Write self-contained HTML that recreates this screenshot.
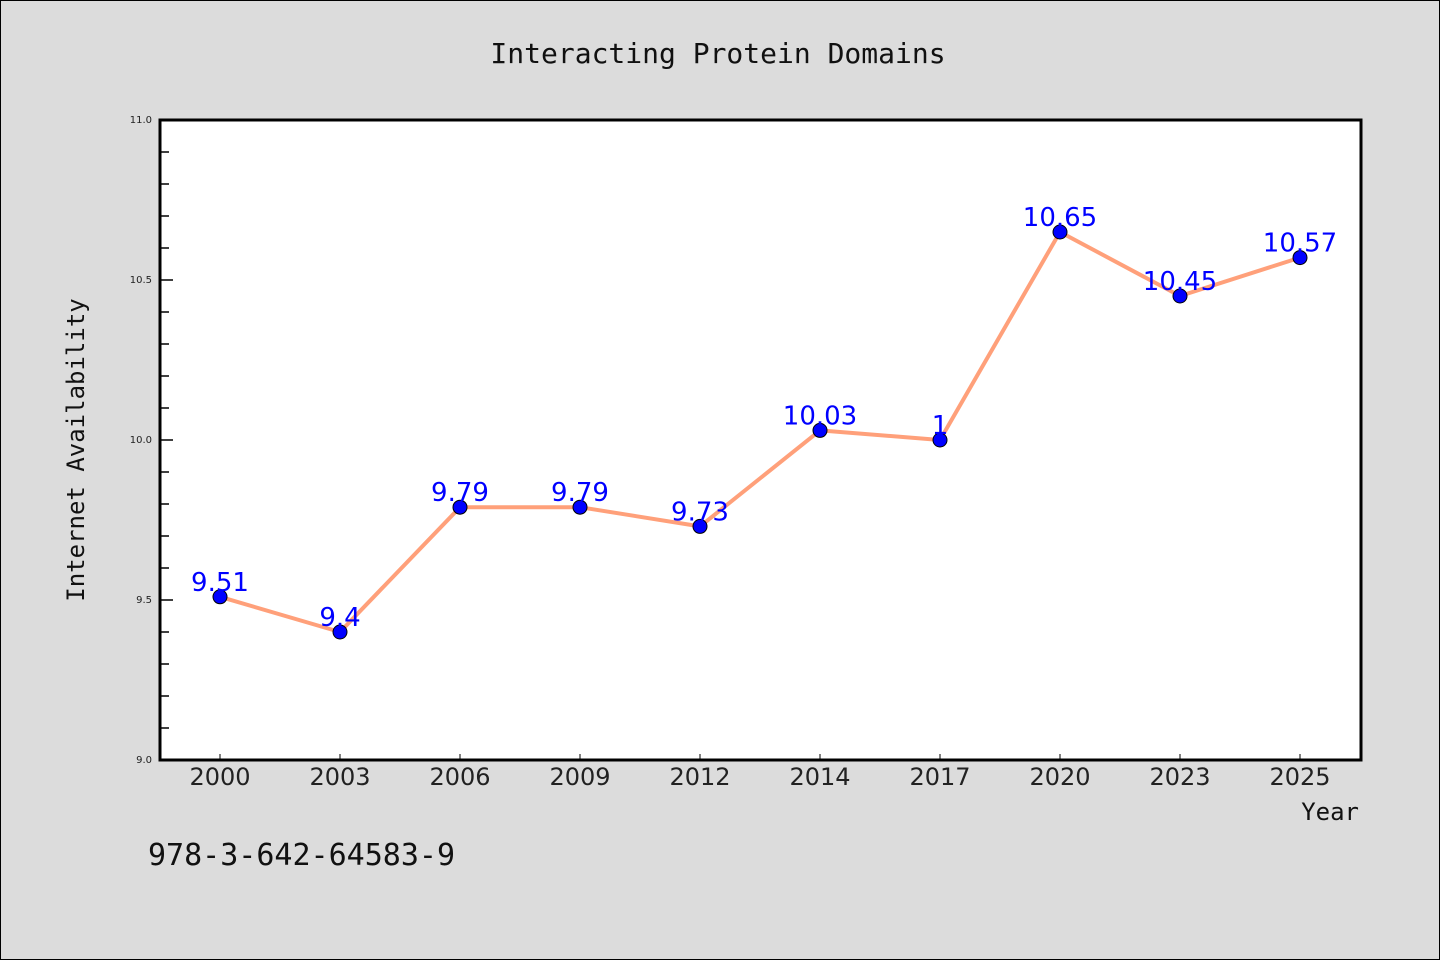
<!DOCTYPE html>
<html><head><meta charset="utf-8"><style>
body{margin:0;background:#dcdcdc;}
svg{display:block;font-family:"DejaVu Sans","Liberation Sans",sans-serif;}
</style></head><body>
<svg width="1440" height="960">
<rect x="0.5" y="0.5" width="1439" height="959" fill="#dcdcdc" stroke="#000"/>
<text x="718" y="63" font-size="28" text-anchor="middle" fill="#111" font-family="DejaVu Sans Mono, monospace">Interacting Protein Domains</text>
<rect x="160" y="120" width="1201" height="640" fill="#fff"/>
<g id="axes"></g>
<g id="marks"></g>
<rect x="160" y="120" width="1201" height="640" fill="none" stroke="#000" stroke-width="3"/>
<text x="84" y="450" font-size="24" text-anchor="middle" fill="#111" transform="rotate(-90 84 450)" font-family="DejaVu Sans Mono, monospace">Internet Availability</text>
<text x="1359" y="820" font-size="24" text-anchor="end" fill="#111" font-family="DejaVu Sans Mono, monospace">Year</text>
<text x="148" y="865" font-size="30" fill="#111" font-family="DejaVu Sans Mono, monospace">978-3-642-64583-9</text>
</svg>
<script>
const categories=["2000","2003","2006","2009","2012","2014","2017","2020","2023","2025"];
const values=[9.51,9.4,9.79,9.79,9.73,10.03,10,10.65,10.45,10.57];
const valueLabels=["9.51","9.4","9.79","9.79","9.73","10.03","1","10.65","10.45","10.57"];
const yTicks=["9.0","9.5","10.0","10.5","11.0"];
const NS="http://www.w3.org/2000/svg";
const x0=220,step=120,yMin=9,yMax=11,plotTop=120,plotBot=760;
const xs=i=>x0+i*step;
const ys=v=>plotBot-(v-yMin)/(yMax-yMin)*(plotBot-plotTop);
function mk(tag,attrs,parent){const e=document.createElementNS(NS,tag);for(const k in attrs)e.setAttribute(k,attrs[k]);parent.appendChild(e);return e;}
const axes=document.getElementById('axes'),marks=document.getElementById('marks');
for(let k=1;k<20;k++){if(k%5===0)continue;const y=ys(yMin+k*0.1);const t=mk('line',{x1:160,x2:169,y1:y,y2:y,stroke:'#000','stroke-width':1.5},axes);

}
yTicks.forEach(l=>{const y=ys(parseFloat(l));const t=mk('line',{x1:160,x2:173,y1:y,y2:y,stroke:'#000','stroke-width':1.5},axes);


const tx=mk('text',{x:152,y:y+3,'font-size':10,'text-anchor':'end',fill:'#222'},axes);tx.textContent=l;

});
categories.forEach((c,i)=>{const x=xs(i);const t=mk('line',{x1:x,x2:x,y1:760,y2:754,stroke:'#000','stroke-width':1},axes);


const tx=mk('text',{x:x,y:785,'font-size':24,'text-anchor':'middle',fill:'#222'},axes);tx.textContent=c;

});
const pl=mk('polyline',{points:values.map((v,i)=>xs(i)+','+ys(v)).join(' '),fill:'none',stroke:'#ffa07a','stroke-width':4,'stroke-linejoin':'round'},marks);


values.forEach((v,i)=>{const c=mk('circle',{cx:xs(i),cy:ys(v),r:7,fill:'#0000ff',stroke:'#000','stroke-width':1},marks);

});
values.forEach((v,i)=>{const t=mk('text',{x:xs(i),y:ys(v)-6,'font-size':26,'text-anchor':'middle',fill:'#0000ff'},marks);t.textContent=valueLabels[i];

});
</script>
</body></html>
